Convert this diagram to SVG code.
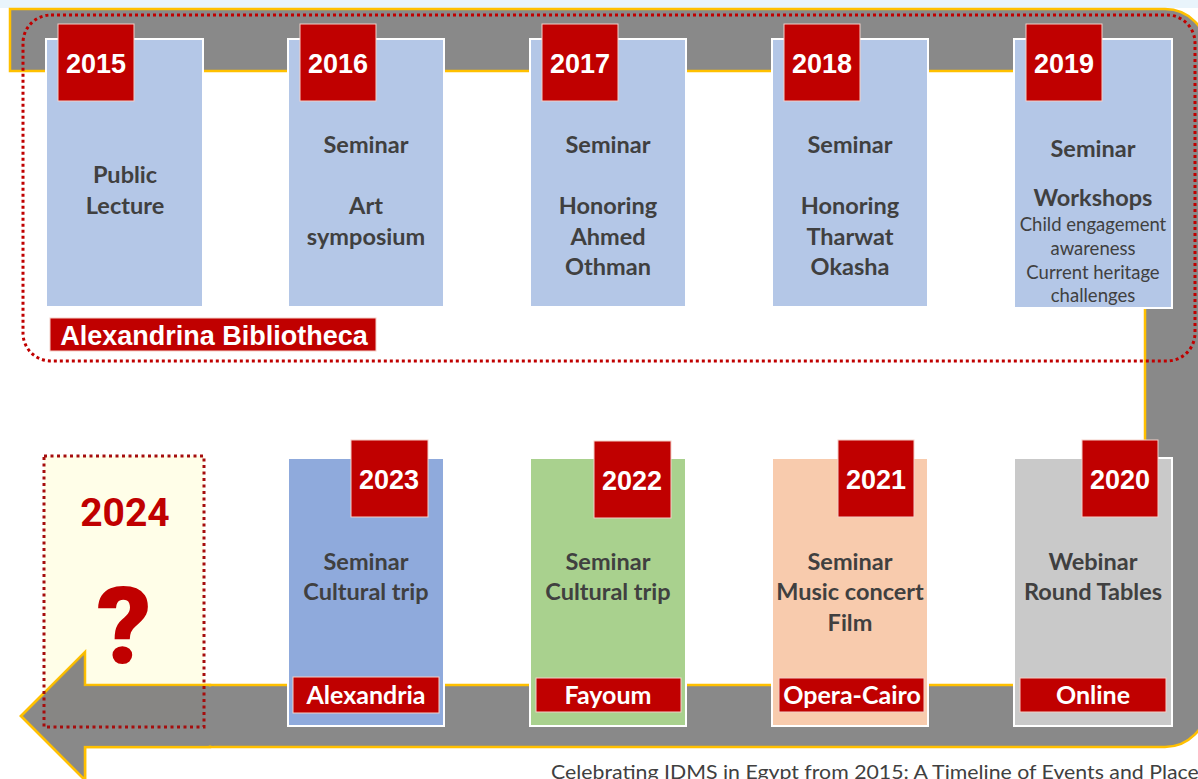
<svg xmlns="http://www.w3.org/2000/svg" width="1198" height="779" viewBox="0 0 1198 779">
  <style>
    .card { stroke: #ffffff; stroke-width: 2; }
    .blue { fill: #b4c7e7; }
    .year { fill: #c00000; stroke: #f4d0c8; stroke-width: 1; }
    .yt { font-family: "Liberation Sans", Arial, sans-serif; font-weight: bold; font-size: 27px; fill: #ffffff; text-anchor: middle; }
    .body { font-family: Lato, "Open Sans", sans-serif; font-weight: bold; font-size: 23.5px; fill: #404040; text-anchor: middle; }
    .small { font-family: Lato, "Open Sans", sans-serif; font-size: 18.5px; fill: #404040; text-anchor: middle; }
    .place { fill: #c00000; stroke: #f4d0c8; stroke-width: 1; }
    .pt { font-family: Lato, "Open Sans", sans-serif; font-weight: bold; font-size: 25px; fill: #ffffff; text-anchor: middle; }
  </style>
  <defs>
    <path id="track" d="M10,9 H1165 A42,42 0 0 1 1207,51 V705 A42,42 0 0 1 1165,747 H85 V780 L21,716 L85,652 V685 H1145 V71 H10 Z"/>
    <clipPath id="track-clip"><use href="#track"/></clipPath>
  </defs>

  <!-- page strip -->
  <rect x="0" y="0" width="1198" height="8" fill="#e9f4fb"/>

  <!-- timeline track: U-turn arrow -->
  <g id="connectors">
    <use href="#track" fill="#898989" stroke="#ffc000" stroke-width="2.5"/>
  </g>

  <!-- venue frame for the first five years -->
  <g id="alexandrina-frame">
    <rect x="23" y="15" width="1172" height="346" rx="28" fill="none" stroke="#c00000" stroke-width="3" stroke-dasharray="3 3"/>
    <rect x="50" y="318" width="326" height="33" fill="#c00000" stroke="#f4d0c8" stroke-width="1"/>
    <text x="214" y="345" font-family="Liberation Sans, Arial, sans-serif" font-weight="bold" font-size="27" fill="#ffffff" text-anchor="middle">Alexandrina Bibliotheca</text>
  </g>

  <g id="y2015">
    <rect class="card blue" x="46" y="39" width="157" height="268"/>
    <rect class="year" x="58" y="24" width="76" height="77"/>
    <text class="yt" x="96" y="73">2015</text>
    <text class="body" x="125" y="183">Public</text>
    <text class="body" x="125" y="214">Lecture</text>
  </g>

  <g id="y2016">
    <rect class="card blue" x="288" y="39" width="156" height="268"/>
    <rect class="year" x="300" y="24" width="76" height="77"/>
    <text class="yt" x="338" y="73">2016</text>
    <text class="body" x="366" y="153">Seminar</text>
    <text class="body" x="366" y="214">Art</text>
    <text class="body" x="366" y="245">symposium</text>
  </g>

  <g id="y2017">
    <rect class="card blue" x="530" y="39" width="156" height="268"/>
    <rect class="year" x="542" y="24" width="76" height="77"/>
    <text class="yt" x="580" y="73">2017</text>
    <text class="body" x="608" y="153">Seminar</text>
    <text class="body" x="608" y="214">Honoring</text>
    <text class="body" x="608" y="245">Ahmed</text>
    <text class="body" x="608" y="275">Othman</text>
  </g>

  <g id="y2018">
    <rect class="card blue" x="772" y="39" width="156" height="268"/>
    <rect class="year" x="784" y="24" width="76" height="77"/>
    <text class="yt" x="822" y="73">2018</text>
    <text class="body" x="850" y="153">Seminar</text>
    <text class="body" x="850" y="214">Honoring</text>
    <text class="body" x="850" y="245">Tharwat</text>
    <text class="body" x="850" y="275">Okasha</text>
  </g>

  <g id="y2019">
    <rect class="card blue" x="1014" y="39" width="158" height="269"/>
    <rect class="year" x="1026" y="24" width="76" height="77"/>
    <text class="yt" x="1064" y="73">2019</text>
    <text class="body" x="1093" y="157">Seminar</text>
    <text class="body" x="1093" y="206">Workshops</text>
    <text class="small" x="1093" y="231">Child engagement</text>
    <text class="small" x="1093" y="255">awareness</text>
    <text class="small" x="1093" y="279">Current heritage</text>
    <text class="small" x="1093" y="302">challenges</text>
  </g>

  <g id="y2020">
    <rect class="card" x="1014" y="458" width="158" height="268" fill="#c9c9c9"/>
    <rect class="year" x="1082" y="440" width="76" height="77"/>
    <text class="yt" x="1120" y="489">2020</text>
    <text class="body" x="1093" y="570">Webinar</text>
    <text class="body" x="1093" y="600">Round Tables</text>
    <rect class="place" x="1020" y="678" width="146" height="34"/>
    <text class="pt" x="1093" y="704">Online</text>
  </g>

  <g id="y2021">
    <rect class="card" x="772" y="458" width="156" height="268" fill="#f8cbad"/>
    <rect class="year" x="838" y="440" width="76" height="77"/>
    <text class="yt" x="876" y="489">2021</text>
    <text class="body" x="850" y="570">Seminar</text>
    <text class="body" x="850" y="600">Music concert</text>
    <text class="body" x="850" y="631">Film</text>
    <rect class="place" x="779" y="678" width="145" height="34"/>
    <text class="pt" x="852" y="704">Opera-Cairo</text>
  </g>

  <g id="y2022">
    <rect class="card" x="530" y="458" width="156" height="268" fill="#a9d18e"/>
    <rect class="year" x="594" y="441" width="77" height="77"/>
    <text class="yt" x="632" y="490">2022</text>
    <text class="body" x="608" y="570">Seminar</text>
    <text class="body" x="608" y="600">Cultural trip</text>
    <rect class="place" x="536" y="678" width="145" height="34"/>
    <text class="pt" x="608" y="704">Fayoum</text>
  </g>

  <g id="y2023">
    <rect class="card" x="288" y="458" width="156" height="268" fill="#8faadc"/>
    <rect class="year" x="351" y="440" width="77" height="77"/>
    <text class="yt" x="389" y="489">2023</text>
    <text class="body" x="366" y="570">Seminar</text>
    <text class="body" x="366" y="600">Cultural trip</text>
    <rect class="place" x="293" y="677" width="146" height="36"/>
    <text class="pt" x="366" y="704">Alexandria</text>
  </g>

  <g id="y2024">
    <rect x="44" y="456" width="160" height="271" fill="#fffee8"/>
    <text x="125" y="526" font-family="Roboto, Liberation Sans, sans-serif" font-weight="bold" font-size="39" fill="#c00000" text-anchor="middle">2024</text>
    <text x="124" y="663" font-family="Roboto, Liberation Sans, sans-serif" font-weight="900" font-size="108" fill="#c00000" text-anchor="middle">?</text>
  </g>

  <!-- arrow tip redrawn over the 2024 panel -->
  <g id="arrow-tip">
    <path d="M210,685 H85 V652 L21,716 L85,780 V747 H210 Z" fill="#898989" stroke="#ffc000" stroke-width="2.5"/>
    <rect x="84" y="686.5" width="130" height="59" fill="#898989"/>
    <rect x="44" y="640" width="160" height="87" fill="#6e6a50" fill-opacity="0.08" clip-path="url(#track-clip)"/>
  </g>

  <rect id="y2024-frame" x="44" y="456" width="160" height="271" fill="none" stroke="#a50d0d" stroke-width="3" stroke-dasharray="3 3.5"/>

  <text x="551" y="779" font-family="Lato, Open Sans, sans-serif" font-size="20" fill="#404040" textLength="657" lengthAdjust="spacingAndGlyphs">Celebrating IDMS in Egypt from 2015: A Timeline of Events and Places</text>
</svg>
